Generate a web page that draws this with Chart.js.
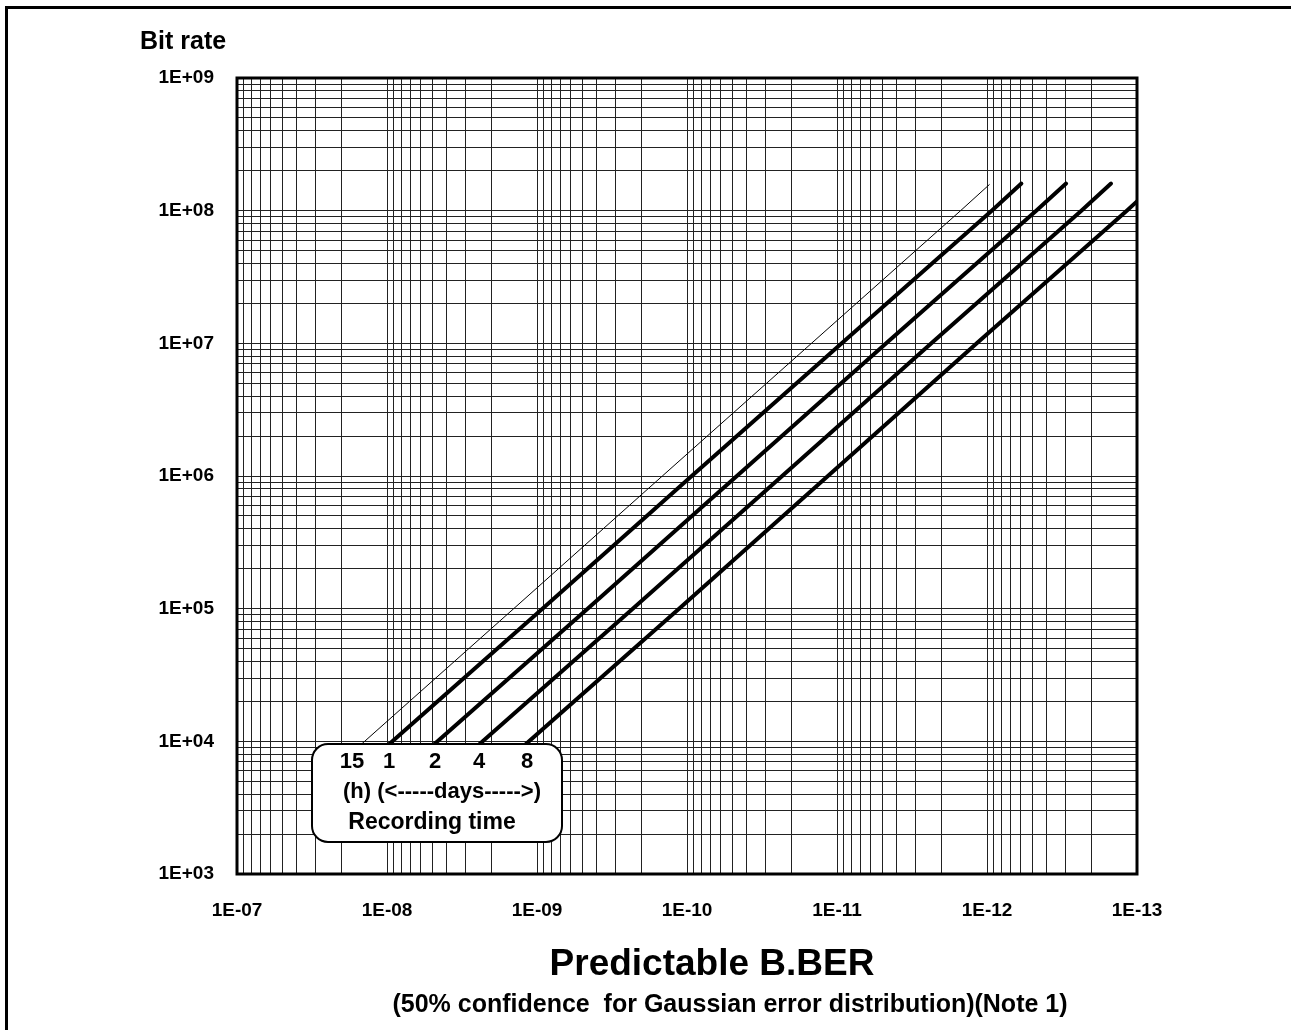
<!DOCTYPE html>
<html>
<head>
<meta charset="utf-8">
<title>Predictable B.BER</title>
<script src="https://cdn.jsdelivr.net/npm/chart.js@4.4.1/dist/chart.umd.min.js"></script>
<style>
  html, body { margin: 0; padding: 0; background: #fff; overflow: hidden; }
  #frame { position: absolute; left: 5px; top: 6px; width: 2000px; height: 2000px; border-left: 3px solid #000; border-top: 3px solid #000; }
  #wrap { position: absolute; left: 0; top: 0; width: 1291px; height: 1030px; }
</style>
</head>
<body>
<div id="frame"></div>
<div id="wrap"><canvas id="chart"></canvas></div>
<script>
// =============================================
//   DATA
// =============================================
const xDecades = [1e-7, 1e-8, 1e-9, 1e-10, 1e-11, 1e-12, 1e-13];
const xTickLabels = ['1E-07', '1E-08', '1E-09', '1E-10', '1E-11', '1E-12', '1E-13'];
const yDecades = [1e3, 1e4, 1e5, 1e6, 1e7, 1e8, 1e9];
const yTickLabels = ['1E+03', '1E+04', '1E+05', '1E+06', '1E+07', '1E+08', '1E+09'];

// recording times, 15 hours then days
const recordingTimes = ['15', '1', '2', '4', '8'];

// bit rate (y) and predictable BER (x) along each curve
const rate15h = [8e3, 1e4, 1e5, 1e6, 1e7, 1e8, 1.57e8];
const ber15h  = [1.76e-8, 1.41e-8, 1.43e-9, 1.46e-10, 1.48e-11, 1.5e-12, 9.66e-13];

const rate1d = [8e3, 1e4, 1e5, 1e6, 1e7, 1e8, 1.6e8];
const ber1d  = [1.15e-8, 9.2e-9, 9.2e-10, 9.3e-11, 9.3e-12, 9.3e-13, 5.9e-13];

const rate2d = [8e3, 1e4, 1e5, 1e6, 1e7, 1e8, 1.6e8];
const ber2d  = [5.75e-9, 4.6e-9, 4.6e-10, 4.65e-11, 4.7e-12, 4.7e-13, 2.97e-13];

const rate4d = [8e3, 1e4, 1e5, 1e6, 1e7, 1e8, 1.6e8];
const ber4d  = [2.88e-9, 2.3e-9, 2.3e-10, 2.32e-11, 2.35e-12, 2.35e-13, 1.49e-13];

const rate8d = [8e3, 1e4, 1e5, 1e6, 1e7, 1e8, 1.6e8];
const ber8d  = [1.41e-9, 1.13e-9, 1.13e-10, 1.15e-11, 1.17e-12, 1.17e-13, 7.4e-14];

// =============================================
//   CHART
// =============================================
const FONT = "'Liberation Sans', Arial, Helvetica, sans-serif";
Chart.defaults.font.family = FONT;
Chart.defaults.color = '#000';

function points(bers, rates) {
  return bers.map((b, i) => ({ x: b, y: rates[i] }));
}

function curve(bers, rates, width) {
  return {
    data: points(bers, rates),
    borderColor: '#000',
    borderWidth: width,
    borderCapStyle: 'round',
    borderJoinStyle: 'round',
    pointRadius: 0,
    tension: 0,
    fill: false
  };
}

// every 1..9 x 10^n line of log paper
function logGrid(scale) {
  const lo = Math.round(Math.log10(scale.min));
  const hi = Math.round(Math.log10(scale.max));
  const ticks = [];
  for (let e = lo; e < hi; e++) {
    for (let m = 1; m < 10; m++) ticks.push({ value: m * Math.pow(10, e) });
  }
  ticks.push({ value: Math.pow(10, hi) });
  scale.ticks = ticks;
}

function decadeLabel(decades, labels) {
  return value => {
    const i = decades.findIndex(d => Math.abs(value / d - 1) < 1e-6);
    return i < 0 ? '' : labels[i];
  };
}

function rrect(ctx, x, y, w, h, r) {
  ctx.beginPath();
  ctx.moveTo(x + r, y);
  ctx.arcTo(x + w, y, x + w, y + h, r);
  ctx.arcTo(x + w, y + h, x, y + h, r);
  ctx.arcTo(x, y + h, x, y, r);
  ctx.arcTo(x, y, x + w, y, r);
  ctx.closePath();
}

const decorations = {
  id: 'decorations',
  afterDatasetsDraw(chart) {
    const { ctx, chartArea: a } = chart;
    ctx.save();
    // plot frame
    ctx.strokeStyle = '#000';
    ctx.lineWidth = 3;
    ctx.strokeRect(a.left, a.top, a.right - a.left, a.bottom - a.top);

    // recording time key
    const bx = a.left + 75, by = a.top + 666, bw = 250, bh = 98;
    rrect(ctx, bx, by, bw, bh, 16);
    ctx.fillStyle = '#fff';
    ctx.fill();
    ctx.lineWidth = 2;
    ctx.stroke();

    ctx.fillStyle = '#000';
    ctx.textBaseline = 'middle';
    ctx.textAlign = 'center';
    ctx.font = 'bold 22px ' + FONT;
    const numX = [40, 77, 123, 167, 215];
    recordingTimes.forEach((t, i) => ctx.fillText(t, bx + numX[i], by + 18));
    ctx.fillText('(h) (<-----days----->)', bx + 130, by + 48);
    ctx.font = 'bold 23px ' + FONT;
    ctx.fillText('Recording time', bx + 120, by + 79);

    // axis captions
    ctx.textAlign = 'left';
    ctx.font = 'bold 25px ' + FONT;
    ctx.fillText('Bit rate', 140, 42);
    ctx.textAlign = 'center';
    ctx.font = 'bold 37px ' + FONT;
    ctx.fillText('Predictable B.BER', 712, 965);
    ctx.font = 'bold 25px ' + FONT;
    ctx.fillText('(50% confidence  for Gaussian error distribution)(Note 1)', 730, 1005);
    ctx.restore();
  }
};

const tickFont = { size: 19, weight: 'bold' };

new Chart(document.getElementById('chart'), {
  type: 'line',
  data: {
    datasets: [
      curve(ber15h, rate15h, 1),
      curve(ber1d, rate1d, 4),
      curve(ber2d, rate2d, 4),
      curve(ber4d, rate4d, 4),
      curve(ber8d, rate8d, 4)
    ]
  },
  options: {
    responsive: true,
    maintainAspectRatio: false,
    animation: false,
    events: [],
    layout: { padding: { top: 78, right: 154, bottom: 0, left: 0 } },
    plugins: { legend: { display: false }, title: { display: false }, tooltip: { enabled: false } },
    scales: {
      x: {
        type: 'logarithmic',
        reverse: true,
        min: 1e-13,
        max: 1e-7,
        afterBuildTicks: logGrid,
        afterFit: s => { s.height = 156; },
        grid: { color: '#222', lineWidth: 1, drawTicks: false },
        border: { display: false },
        ticks: { autoSkip: false, maxRotation: 0, padding: 25, font: tickFont, callback: decadeLabel(xDecades, xTickLabels) }
      },
      y: {
        type: 'logarithmic',
        min: 1e3,
        max: 1e9,
        afterBuildTicks: logGrid,
        afterFit: s => { s.width = 237; },
        grid: { color: '#222', lineWidth: 1, drawTicks: false },
        border: { display: false },
        ticks: { autoSkip: false, padding: 23, font: tickFont, callback: decadeLabel(yDecades, yTickLabels) }
      }
    }
  },
  plugins: [decorations]
});
</script>
</body>
</html>
